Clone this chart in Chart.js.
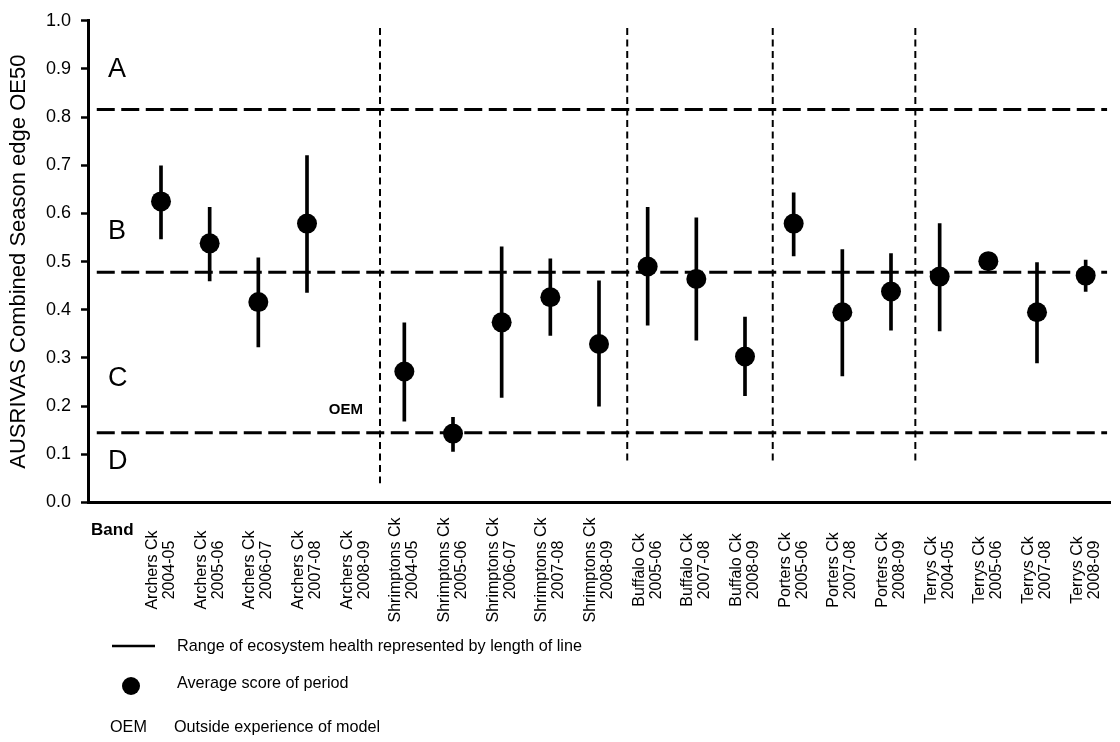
<!DOCTYPE html>
<html>
<head>
<meta charset="utf-8">
<script src="https://cdn.jsdelivr.net/npm/chart.js@4.4.0/dist/chart.umd.min.js"></script>
<style>
  body { margin: 0; background: #fff; }
  canvas { display: block; }
</style>
</head>
<body>
<canvas id="oeChart" width="1120" height="742"></canvas>
<script>
// sites and sampling periods along the x axis
var creeks = ['Archers Ck', 'Archers Ck', 'Archers Ck', 'Archers Ck', 'Archers Ck',
  'Shrimptons Ck', 'Shrimptons Ck', 'Shrimptons Ck', 'Shrimptons Ck', 'Shrimptons Ck',
  'Buffalo Ck', 'Buffalo Ck', 'Buffalo Ck',
  'Porters Ck', 'Porters Ck', 'Porters Ck',
  'Terrys Ck', 'Terrys Ck', 'Terrys Ck', 'Terrys Ck'];
var seasons = ['2004-05', '2005-06', '2006-07', '2007-08', '2008-09',
  '2004-05', '2005-06', '2006-07', '2007-08', '2008-09',
  '2005-06', '2007-08', '2008-09',
  '2005-06', '2007-08', '2008-09',
  '2004-05', '2005-06', '2007-08', '2008-09'];

// OE50 average for the period, and the low/high of the range (null = outside experience of model)
var avgScore = [0.625, 0.538, 0.416, 0.579, null, 0.272, 0.143, 0.374, 0.426, 0.329,
  0.490, 0.464, 0.303, 0.579, 0.395, 0.438, 0.469, 0.501, 0.395, 0.471];
var rangeLow = [0.547, 0.460, 0.323, 0.436, null, 0.169, 0.106, 0.218, 0.347, 0.200,
  0.368, 0.337, 0.222, 0.512, 0.263, 0.358, 0.356, null, 0.290, 0.438];
var rangeHigh = [0.699, 0.613, 0.508, 0.720, null, 0.373, 0.177, 0.531, 0.506, 0.460,
  0.613, 0.591, 0.385, 0.643, 0.525, 0.517, 0.579, null, 0.498, 0.503];

// AUSRIVAS band cut-offs (A/B, B/C, C/D) and where the letters sit
var bandCuts = [0.816, 0.478, 0.145];
var bandNames = ['A', 'B', 'C', 'D'];
var bandLabelY = [0.898, 0.562, 0.257, 0.086];

// dotted lines between creeks
var siteBreaks = [5.5, 10.58, 13.57, 16.5];
var siteBreakBottom = [0.04, 0.083, 0.083, 0.083];

var FONT = '"Liberation Sans", Arial, Helvetica, sans-serif';

var points = [], ranges = [];
for (var i = 0; i < avgScore.length; i++) {
  if (avgScore[i] !== null) points.push({x: i + 1, y: avgScore[i]});
  if (rangeLow[i] !== null) ranges.push({x: i + 1, y: [rangeLow[i], rangeHigh[i]]});
}

var datasets = [
  {type: 'scatter', data: points, pointRadius: 10, pointHoverRadius: 10,
   backgroundColor: '#000', borderColor: '#000', borderWidth: 0, order: 0},
  {type: 'bar', data: ranges, barThickness: 3, backgroundColor: '#000', order: 1}
];
bandCuts.forEach(function(v) {
  datasets.push({type: 'line', data: [{x: -0.32, y: v}, {x: 20.44, y: v}],
    borderColor: '#000', borderWidth: 3, borderDash: [18, 6.5], pointRadius: 0, order: 2});
});
siteBreaks.forEach(function(v, k) {
  datasets.push({type: 'line', data: [{x: v, y: 0.985}, {x: v, y: siteBreakBottom[k]}],
    borderColor: '#000', borderWidth: 2, borderDash: [7, 4.5], pointRadius: 0, order: 3});
});

// text that chart.js has no slot for: band letters, OEM, rotated site labels, key
var textPlugin = {
  id: 'oeText',
  afterDraw: function(chart) {
    var ctx = chart.ctx;
    var xs = chart.scales.x, ys = chart.scales.y;
    ctx.save();
    ctx.fillStyle = '#000';
    ctx.strokeStyle = '#000';
    ctx.textBaseline = 'middle';

    ctx.font = '27px ' + FONT;
    ctx.textAlign = 'left';
    for (var b = 0; b < bandNames.length; b++) {
      ctx.fillText(bandNames[b], xs.getPixelForValue(-0.09), ys.getPixelForValue(bandLabelY[b]));
    }

    ctx.font = 'bold 15px ' + FONT;
    ctx.textAlign = 'center';
    ctx.fillText('OEM', xs.getPixelForValue(4.8), ys.getPixelForValue(0.193));

    var base = ys.bottom;
    ctx.font = 'bold 17px ' + FONT;
    ctx.fillText('Band', xs.getPixelForValue(0), base + 27.5);

    ctx.font = '16px ' + FONT;
    for (var i = 0; i < creeks.length; i++) {
      ctx.save();
      ctx.translate(xs.getPixelForValue(i + 1), base + 67.5);
      ctx.rotate(-Math.PI / 2);
      ctx.fillText(creeks[i], 0, -8.5);
      ctx.fillText(seasons[i], 0, 8.5);
      ctx.restore();
    }

    // key
    ctx.font = '16.2px ' + FONT;
    ctx.textAlign = 'left';
    ctx.lineWidth = 2.5;
    ctx.beginPath();
    ctx.moveTo(112, 646);
    ctx.lineTo(155, 646);
    ctx.stroke();
    ctx.fillText('Range of ecosystem health represented by length of line', 177, 647);

    ctx.beginPath();
    ctx.arc(131, 686, 9, 0, Math.PI * 2);
    ctx.fill();
    ctx.fillText('Average score of period', 177, 684);

    ctx.fillText('OEM', 110, 728);
    ctx.fillText('Outside experience of model', 174, 728);
    ctx.restore();
  }
};

new Chart(document.getElementById('oeChart'), {
  type: 'bar',
  data: {datasets: datasets},
  options: {
    responsive: false,
    animation: false,
    devicePixelRatio: 1,
    layout: {padding: {left: 0, top: 13, right: 3, bottom: 239.5}},
    plugins: {legend: {display: false}, tooltip: {enabled: false}},
    scales: {
      x: {
        type: 'linear', min: -0.5, max: 20.5, offset: false,
        ticks: {display: false},
        grid: {drawOnChartArea: false, drawTicks: false},
        border: {color: '#000', width: 3}
      },
      y: {
        min: 0, max: 1,
        afterFit: function(s) { s.width = 88; },
        ticks: {stepSize: 0.1, padding: 10, color: '#000', font: {family: FONT, size: 18},
          callback: function(v) { return v.toFixed(1); }},
        grid: {drawOnChartArea: false, tickLength: 7, tickColor: '#000', tickWidth: 2.5},
        border: {color: '#000', width: 3},
        title: {display: true, text: 'AUSRIVAS Combined Season edge OE50', color: '#000',
          font: {family: FONT, size: 22}, padding: {top: 6, bottom: 0}}
      }
    }
  },
  plugins: [textPlugin]
});
</script>
</body>
</html>
